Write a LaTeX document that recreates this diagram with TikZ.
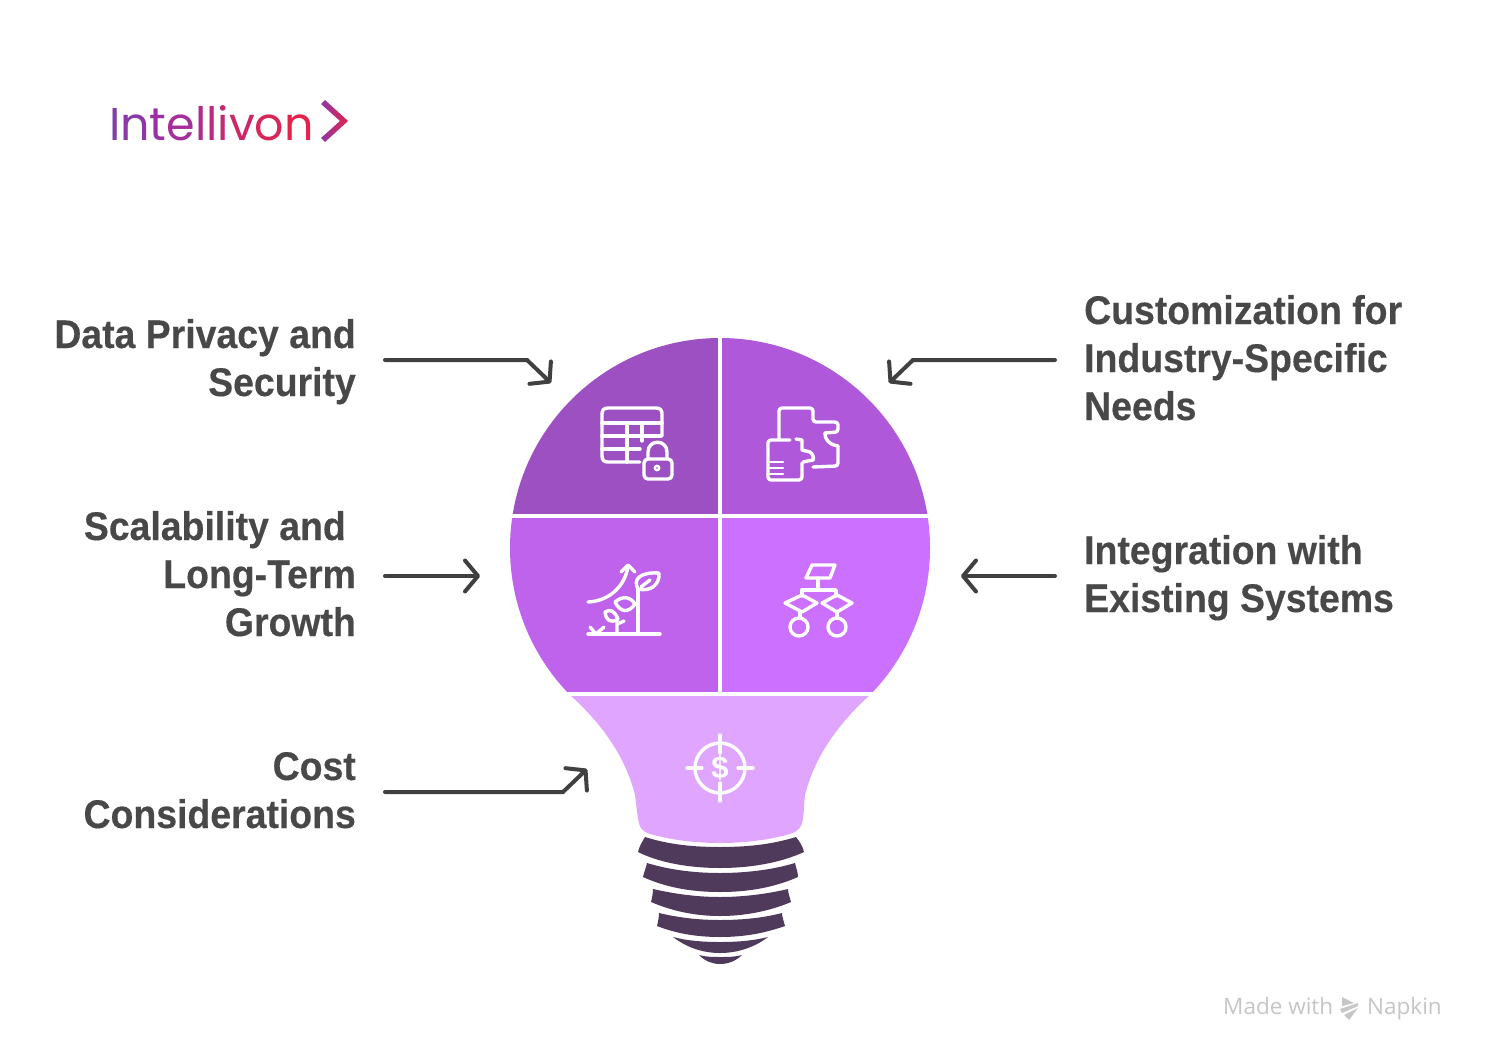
\documentclass[tikz,border=0pt]{standalone}
\usepackage{fontspec}
\usetikzlibrary{arrows.meta}
\setmainfont{Liberation Sans}
\newfontfamily\labelfont[FakeStretch=0.935,BoldFeatures={FakeStretch=0.935,FakeBold=0.3}]{Liberation Sans}
\newfontfamily\logofont{Poppins}
\newfontfamily\markfont{Open Sans}
\definecolor{ctl}{HTML}{9C50C2}
\definecolor{ctr}{HTML}{B058DA}
\definecolor{cml}{HTML}{BF63EC}
\definecolor{cmr}{HTML}{CC70FF}
\definecolor{cneck}{HTML}{E0A6FF}
\definecolor{basec}{HTML}{503A5B}
\definecolor{txt}{HTML}{484848}
\definecolor{arr}{HTML}{404040}
\definecolor{wmk}{HTML}{C6C6C6}
\definecolor{L1}{HTML}{7F3FA6}\definecolor{L2}{HTML}{8C38A8}\definecolor{L3}{HTML}{9B30A4}
\definecolor{L4}{HTML}{A62E98}\definecolor{L5}{HTML}{B02C8C}\definecolor{L6}{HTML}{B82C80}
\definecolor{L7}{HTML}{C22A72}\definecolor{L8}{HTML}{CC2866}\definecolor{L9}{HTML}{D82658}\definecolor{L0}{HTML}{E5224C}
\tikzset{
 lab/.style={inner sep=0pt,text=txt,align=#1,font=\labelfont\bfseries\fontsize{40}{48}\selectfont},
 conn/.style={draw=arr,line width=4pt,line cap=round,-{Straight Barb[length=13pt,width=31pt,line width=4pt,round]}},
 ico/.style={draw=white,line width=3.4pt,line cap=round,line join=round},
 gap/.style={draw=white,line width=4pt},
 seg/.style={fill=basec}
}
\begin{document}
\begin{tikzpicture}[x=1pt,y=-1pt]
\useasboundingbox (0,0) rectangle (1488,1062);
\fill[white] (0,0) rectangle (1488,1062);
% logo
\node[anchor=base west,inner sep=0pt,font=\logofont\fontsize{46}{46}\selectfont] (logo) at (109,141)
 {\textcolor{L1}{I}\textcolor{L2}{n}\textcolor{L3}{t}\textcolor{L4}{e}\textcolor{L5}{l}\textcolor{L6}{l}\textcolor{L7}{i}\textcolor{L8}{v}\textcolor{L9}{o}\textcolor{L0}{n}};
\shade[left color=L2,right color=L0] (325,100) -- (348,121) -- (325,142) -- (321,138) -- (340,121) -- (321,104) -- cycle;
% bulb
\begin{scope}
\clip (720,548) circle[radius=210];
\fill[ctl] (500,330) rectangle (720,516);
\fill[ctr] (720,330) rectangle (940,516);
\fill[cml] (500,516) rectangle (720,694);
\fill[cmr] (720,516) rectangle (940,694);
\end{scope}
\fill[cneck] (570,695) -- (870,695) .. controls (840,722) and (815,755) .. (805,795)
 .. controls (804,803) and (804,812) .. (803,818) .. controls (802,828) and (797,832) .. (790,834)
 .. controls (765,841) and (740,843) .. (720,843) .. controls (700,843) and (675,841) .. (650,834)
 .. controls (643,832) and (639,828) .. (638,818) .. controls (637,812) and (636,803) .. (635,795)
 .. controls (625,755) and (600,722) .. (570,695) -- cycle;
\draw[gap] (720,338) -- (720,694);
\draw[gap] (510,516) -- (930,516);
\draw[gap] (565,694) -- (875,694);
% base
\fill[seg] (645,837) .. controls (670,845) and (695,847) .. (720,847) .. controls (745,847) and (770,845) .. (796,837)
 .. controls (800,842) and (803,847) .. (804,852) .. controls (780,863) and (750,868) .. (720,868) .. controls (690,868) and (660,863) .. (638,852) .. controls (639,847) and (642,842) .. (645,837) -- cycle;
\fill[seg] (647,863) .. controls (670,870) and (695,873) .. (720,873) .. controls (745,873) and (772,870) .. (795,863)
 .. controls (796,868) and (798,872) .. (798,877) .. controls (775,887) and (750,892) .. (720,892) .. controls (690,892) and (665,887) .. (643,877) .. controls (644,872) and (646,868) .. (647,863) -- cycle;
\fill[seg] (653,889) .. controls (675,894) and (697,897) .. (720,897) .. controls (743,897) and (767,894) .. (788,889)
 .. controls (788,893) and (790,898) .. (791,902) .. controls (770,911) and (745,916) .. (720,916) .. controls (695,916) and (672,911) .. (651,902) .. controls (652,898) and (653,893) .. (653,889) -- cycle;
\fill[seg] (659,913) .. controls (680,918) and (700,920) .. (720,920) .. controls (742,920) and (763,918) .. (782,913)
 .. controls (782,917) and (784,922) .. (785,926) .. controls (765,933) and (745,937) .. (720,937) .. controls (695,937) and (675,933) .. (657,926) .. controls (658,922) and (659,917) .. (659,913) -- cycle;
\fill[seg] (673,937) .. controls (688,941) and (704,942) .. (720,942) .. controls (736,942) and (752,941) .. (768,937)
 .. controls (755,947) and (738,953) .. (720,953) .. controls (702,953) and (686,947) .. (673,937) -- cycle;
\fill[seg] (699,955) .. controls (706,957) and (713,957) .. (720,957) .. controls (728,957) and (735,957) .. (742,955)
 .. controls (736,961) and (728,964) .. (720,964) .. controls (712,964) and (705,961) .. (699,955) -- cycle;
% icon: table + lock
\draw[ico] (662,436) -- (662,414) .. controls (662,410) and (660,408) .. (656,408) -- (608,408) .. controls (604,408) and (602,410) .. (602,414) -- (602,456) .. controls (602,460) and (604,462) .. (608,462) -- (640,462);
\draw[ico] (602,423) -- (662,423) (602,436) -- (661,436) (602,449) -- (640,449) (627,423) -- (627,462) (642,423) -- (642,441);
\draw[ico,rounded corners=4pt] (644,459) rectangle (672,479);
\draw[ico] (648,459) -- (648,452) .. controls (648,439) and (667,439) .. (667,452) -- (667,459);
\draw[ico,line width=2.4pt] (657,468) circle[radius=2.2];
% icon: puzzle
\draw[ico,rounded corners=3pt] (779,440) -- (779,408) -- (813,408) -- (813,422) -- (838,422) -- (838,432) -- (825,433);
\draw[ico] (825,433) .. controls (824,439) and (830,445) .. (838,446);
\draw[ico,rounded corners=3pt] (838,446) -- (838,466) -- (813,467);
\draw[ico,rounded corners=3pt] (790,440) -- (768,440) -- (768,480) -- (802,480) -- (802,463);
\draw[ico] (796,439) -- (802,440) -- (802,450) -- (810,452) .. controls (813,454) and (814,458) .. (813,460) -- (803,462);
\draw[ico,line width=2.4pt] (770,462) -- (783,462) (770,468) -- (783,468) (770,474) -- (783,474);
% icon: plant
\draw[ico] (588,634) -- (660,634) (638,634) -- (638,590);
\draw[ico] (588,602) .. controls (608,601) and (624,588) .. (628,567);
\draw[ico] (621,572) -- (628,565) -- (635,572);
\draw[ico] (638,589) .. controls (632,578) and (642,572) .. (659,573) .. controls (660,585) and (650,592) .. (638,589) -- cycle;
\draw[ico] (641,587) -- (650,580);
\draw[ico] (615,602) .. controls (622,596) and (630,596) .. (635,604) .. controls (628,614) and (620,612) .. (615,602) -- cycle;
\draw[ico] (605,612) .. controls (610,609) and (614,610) .. (618,619) .. controls (610,624) and (606,620) .. (605,612) -- cycle;
\draw[ico] (617,622) -- (617,634) (617,624) -- (624,621);
\draw[ico] (590,627) -- (596,634) (596,634) -- (604,627);
% icon: flow
\draw[ico] (812,565) -- (835,565) -- (830,578) -- (806,578) -- cycle;
\draw[ico] (818,578) -- (818,590);
\draw[ico] (802,596) -- (802,590) -- (836,590) -- (836,596);
\draw[ico] (802,595) -- (817,603) -- (802,612) -- (785,603) -- cycle;
\draw[ico] (837,595) -- (852,603) -- (837,612) -- (822,603) -- cycle;
\draw[ico] (800,612) -- (800,618) (837,612) -- (837,618);
\draw[ico] (799,627) circle[radius=9] (837,627) circle[radius=9];
% icon: target
\draw[ico] (720,768) circle[radius=25];
\draw[ico] (720,735) -- (720,753) (720,783) -- (720,801) (687,768) -- (702,768) (738,768) -- (753,768);
\node[inner sep=0pt,text=white,font=\bfseries\fontsize{31}{31}\selectfont] (dollar) at (720,768) {\$};
% labels
\node[lab=right,anchor=base east] (dp) at (356,396) {Data Privacy and\\Security};
\node[lab=right,anchor=base east] (sl) at (356,636) {Scalability and\hspace*{10pt}\\Long-Term\\Growth};
\node[lab=right,anchor=base east] (cc) at (356,828) {Cost\\Considerations};
\node[lab=left,anchor=base west] (ci) at (1084,420) {Customization for\\Industry-Specific\\Needs};
\node[lab=left,anchor=base west] (ie) at (1084,612) {Integration with\\Existing Systems};
% connector ends
\coordinate (a1s) at (385,360); \coordinate (a1m) at (527,360); \coordinate (a1e) at (551,383);
\coordinate (a2s) at (1055,360); \coordinate (a2m) at (913,360); \coordinate (a2e) at (889,383);
\coordinate (a3s) at (385,576); \coordinate (a3e) at (480,576);
\coordinate (a4s) at (1055,576); \coordinate (a4e) at (961,576);
\coordinate (a5s) at (385,792); \coordinate (a5m) at (563,792); \coordinate (a5e) at (587,769);
\draw[conn] (a1s) -- (a1m) -- (a1e);
\draw[conn] (a2s) -- (a2m) -- (a2e);
\draw[conn] (a3s) -- (a3e);
\draw[conn] (a4s) -- (a4e);
\draw[conn] (a5s) -- (a5m) -- (a5e);
% watermark
\node[anchor=base west,inner sep=0pt,text=wmk,font=\markfont\fontsize{22.5}{24}\selectfont] (mw) at (1223,1014) {Made with};
\node[anchor=base west,inner sep=0pt,text=wmk,font=\markfont\fontsize{22.5}{24}\selectfont] (mn) at (1367,1014) {Napkin};
\fill[wmk] (1342,997) -- (1354,1003) -- (1342,1006) -- cycle;
\fill[wmk] (1340,1009) -- (1358,1003) -- (1358,1006) -- (1342,1013) -- cycle;
\fill[wmk] (1344,1015) -- (1358,1008) -- (1349,1020) -- cycle;
\end{tikzpicture}
\end{document}
